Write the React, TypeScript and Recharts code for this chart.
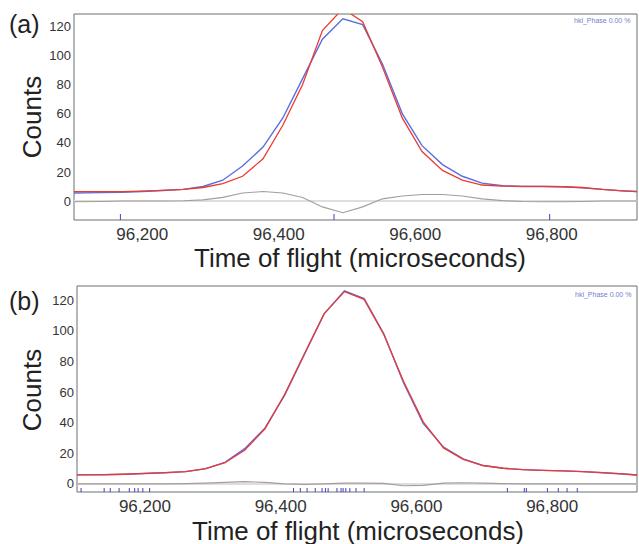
import { ComposedChart, Line, Scatter, XAxis, YAxis, ReferenceLine, ReferenceArea } from "recharts";

const tof = [96100, 96140, 96170, 96200, 96230, 96260, 96289, 96318, 96347, 96377, 96406, 96435, 96464, 96494, 96523, 96552, 96581, 96610, 96640, 96669, 96698, 96728, 96757, 96786, 96816, 96845, 96874, 96904, 96925];

const obsA = [5.5, 5.8, 6.0, 6.5, 7.2, 8.0, 10.0, 14.3, 24, 37, 57, 84, 111, 125, 121, 94, 60, 38, 25, 17, 12.3, 10.5, 10, 10, 9.8, 9.0, 8.0, 7.0, 6.5];
const calcA = [6.5, 6.5, 6.5, 6.8, 7.3, 8.0, 9.3, 12, 17, 29, 52, 80, 117, 132, 123, 92, 57, 34, 21, 14.3, 11, 10.3, 10, 10, 9.8, 9.3, 8.0, 7.0, 6.5];
const diffA = [-0.5, -0.3, 0, 0, 0, 0.2, 0.8, 2.5, 5.5, 6.5, 5.5, 2.5, -4, -8, -4, 1.5, 3.5, 4.5, 4.5, 3.5, 1.5, 0.3, -0.3, -0.5, -0.5, -0.3, 0, 0, 0];

const obsB = [5.9, 6.0, 6.3, 6.8, 7.3, 8.0, 9.8, 14, 23, 36.5, 58, 84.5, 111, 126, 121, 98, 66, 39.5, 24, 16.3, 12, 10.2, 9.3, 8.8, 8.5, 8.0, 7.3, 6.5, 5.8];
const calcB = [5.9, 6.0, 6.3, 6.8, 7.3, 8.0, 9.9, 13.8, 22, 36, 58.5, 85, 111, 125.5, 120.5, 97.5, 67, 40.5, 23.5, 16, 12, 10.2, 9.3, 8.8, 8.5, 8.0, 7.3, 6.5, 5.8];
const diffB = [0, 0, 0, 0, 0, 0.2, 0.5, 1, 1.5, 1, 0, -0.3, 0, 0.5, 0.5, 0.3, -1.2, -1, 0.5, 0.7, 0.5, 0.2, 0, 0, 0, 0, 0, 0, 0];

// reflection positions (small blue ticks along the bottom)
const reflA = [96168, 96481, 96797];
const reflB = [96106, 96140, 96149, 96162, 96177, 96185, 96190, 96197, 96207, 96419, 96429, 96439, 96451, 96461, 96466, 96470, 96483, 96489, 96492, 96496, 96502, 96511, 96523, 96734, 96759, 96762, 96793, 96809, 96822, 96837];

const xTicks = [96200, 96400, 96600, 96800];
const yTicks = [0, 20, 40, 60, 80, 100, 120];

const FONT = "Arial, 'Liberation Sans', Helvetica, sans-serif";
const X_DOMAIN: [number, number] = [96100, 96925];

type PanelProps = {
  obs: number[];
  calc: number[];
  diff: number[];
  refl: number[];
  yDomain: [number, number];
  top: number;
  yWidth: number;
  tickLen: number;
};

function Panel({ obs, calc, diff, refl, yDomain, top, yWidth, tickLen }: PanelProps) {
  const rows = tof.map((t, i) => ({ t, obs: obs[i], calc: calc[i], diff: diff[i] }));
  const marks = refl.map((t) => ({ t, y: yDomain[0] }));

  return (
    <div style={{ position: "absolute", left: 0, top }}>
      <ComposedChart width={639} height={272} data={rows} margin={{ top: 14, right: 2, bottom: 22, left: 0 }}>
        <XAxis
          dataKey="t"
          type="number"
          domain={X_DOMAIN}
          ticks={xTicks}
          tickFormatter={(v: number) => v.toLocaleString("en-US")}
          tick={{ fontSize: 17, fill: "#333", fontFamily: FONT }}
          tickLine={false}
          axisLine={false}
          tickSize={0}
          tickMargin={8}
          height={30}
          allowDataOverflow
        />
        <YAxis
          type="number"
          domain={yDomain}
          ticks={yTicks}
          tick={{ fontSize: 13, fill: "#333", fontFamily: FONT }}
          tickLine={false}
          axisLine={false}
          tickSize={0}
          tickMargin={3}
          width={yWidth}
          allowDataOverflow
        />
        <ReferenceLine y={0} stroke="#dedede" strokeWidth={2} />
        <Line type="linear" dataKey="diff" stroke="#a89c98" strokeWidth={1.1} dot={false} isAnimationActive={false} />
        <Line type="linear" dataKey="obs" stroke="#5a6ee0" strokeWidth={1.4} dot={false} isAnimationActive={false} />
        <Line type="linear" dataKey="calc" stroke="#ea3b30" strokeWidth={1.3} dot={false} isAnimationActive={false} />
        <Scatter
          data={marks}
          dataKey="y"
          isAnimationActive={false}
          shape={(p: any) => (
            <line x1={p.cx} x2={p.cx} y1={p.cy - tickLen} y2={p.cy} stroke="#4040c8" strokeWidth={1} />
          )}
        />
        <ReferenceArea
          x1={X_DOMAIN[0]}
          x2={X_DOMAIN[1]}
          y1={yDomain[0]}
          y2={yDomain[1]}
          fill="none"
          fillOpacity={0}
          stroke="#6e6e6e"
          strokeWidth={1}
        />
      </ComposedChart>
    </div>
  );
}

export default function App() {
  return (
    <div style={{ position: "absolute", left: 0, top: 0, width: 639, height: 544, background: "#fff", overflow: "hidden" }}>
      <Panel obs={obsA} calc={calcA} diff={diffA} refl={reflA} yDomain={[-13, 128.3]} top={0} yWidth={74} tickLen={6} />
      <Panel obs={obsB} calc={calcB} diff={diffB} refl={reflB} yDomain={[-5.3, 129.2]} top={272} yWidth={77} tickLen={4} />
      <svg width={639} height={544} style={{ position: "absolute", left: 0, top: 0, pointerEvents: "none" }} fontFamily={FONT}>
        <text x={9} y={33} fontSize={25} fill="#222">(a)</text>
        <text x={9} y={310} fontSize={25} fill="#222">(b)</text>
        <text x={41} y={117} fontSize={26} fill="#222" textAnchor="middle" transform="rotate(-90 41 117)">Counts</text>
        <text x={41} y={390} fontSize={26} fill="#222" textAnchor="middle" transform="rotate(-90 41 390)">Counts</text>
        <text x={360} y={267} fontSize={25} fill="#222" textAnchor="middle" textLength={332} lengthAdjust="spacingAndGlyphs">Time of flight (microseconds)</text>
        <text x={358} y={540} fontSize={25} fill="#222" textAnchor="middle" textLength={332} lengthAdjust="spacingAndGlyphs">Time of flight (microseconds)</text>
        <text x={574} y={23} fontSize={7} fill="#6f7fd0">hkl_Phase  0.00 %</text>
        <text x={575} y={297} fontSize={7} fill="#6f7fd0">hkl_Phase  0.00 %</text>
      </svg>
    </div>
  );
}
